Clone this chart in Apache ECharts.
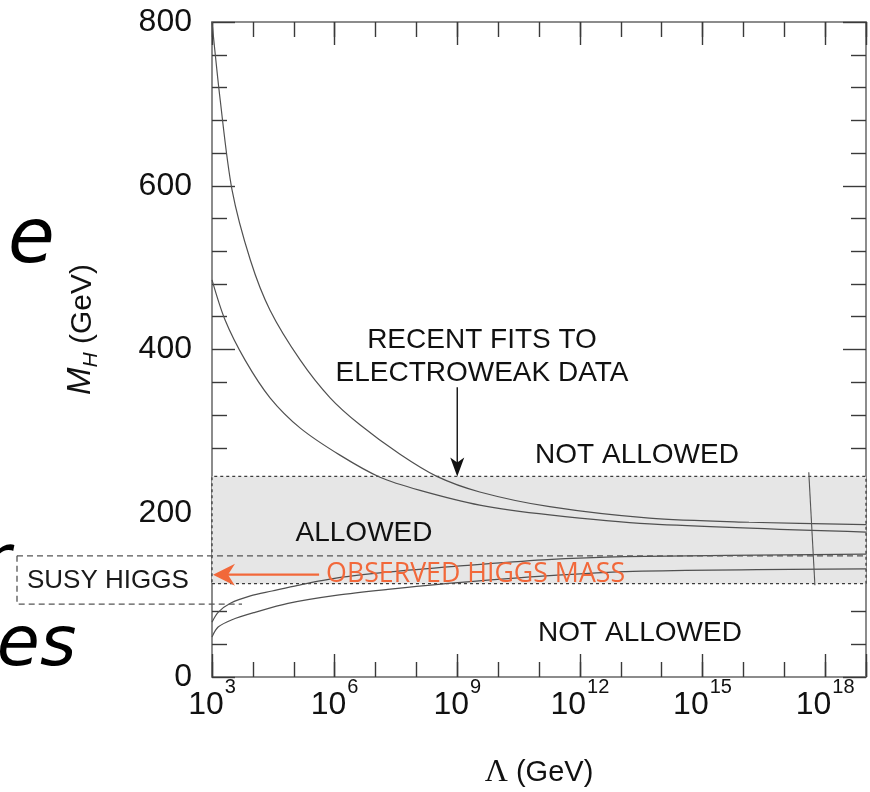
<!DOCTYPE html>
<html>
<head>
<meta charset="utf-8">
<script src="https://cdn.jsdelivr.net/npm/echarts@6/dist/echarts.min.js"></script>
<style>
  html, body { margin: 0; padding: 0; background: #ffffff; }
  #chart { width: 870px; height: 792px; }
</style>
</head>
<body>
<div id="chart"></div>
<script>
// x values are log10(Λ / GeV), y values are M_H in GeV
const xLabelExponents = [3, 6, 9, 12, 15, 18];
const yLabelValues = [0, 200, 400, 600, 800];

// triviality (upper) bounds, two edges
const upperEdgeHigh = [[3, 800], [3.2, 705], [3.49, 595], [3.94, 509], [4.42, 448], [5.16, 387], [5.89, 341], [6.62, 308], [7.6, 272], [8.5, 245], [9.55, 226], [11.26, 208], [13.7, 194], [16.14, 189], [19, 186]];
const upperEdgeLow = [[3, 485], [3.32, 436], [3.81, 387], [4.42, 341], [5.16, 304], [6.13, 271], [7.11, 244], [8.09, 228], [9.55, 210], [11.26, 198], [13.7, 187], [19, 177]];

// vacuum stability (lower) bounds, two edges
const lowerEdgeHigh = [[3, 67], [3.15, 79], [3.45, 90], [3.94, 99], [4.47, 105], [5.1, 112], [6.07, 121], [7.3, 128], [8.94, 135], [11.1, 143], [13.1, 147], [19, 150]];
const lowerEdgeLow = [[3, 49], [3.15, 61], [3.49, 70], [4.05, 79], [4.86, 90], [6.07, 100], [7.3, 107], [8.94, 115], [11, 123], [13.3, 129], [19, 132]];

// Planck-scale cut mark
const cutoffMark = [[17.6, 250], [17.75, 112]];

// shaded "allowed" band and SUSY Higgs window (GeV)
const allowedBand = [114, 245];
const susyWindow = [89, 148];
const observedMass = 125;
const fitsArrowTarget = [9, 245];
const fitsArrowStart = 354;
const observedArrowFrom = 5.62;

const chart = echarts.init(document.getElementById('chart'), null, { renderer: 'canvas' });

const FONT = "'Liberation Sans', Arial, sans-serif";
const axisLineStyle = { color: '#8c8c8c', width: 2 };
const tickStyle = { color: '#3a3a3a', width: 1.4 };

function xAxisPair(position, withLabels) {
  return [
    {
      type: 'value', position: position, min: 3, max: 19, interval: 3,
      axisLine: { show: true, onZero: false, lineStyle: axisLineStyle },
      axisTick: { show: true, inside: true, length: 23, lineStyle: tickStyle },
      splitLine: { show: false },
      axisLabel: withLabels ? {
        show: true, margin: 0,
        formatter: function (v) {
          return xLabelExponents.indexOf(v) >= 0 ? '{b|10}{s|' + v + '}' : '';
        },
        rich: {
          b: { fontFamily: FONT, fontSize: 32, color: '#111', lineHeight: 44, verticalAlign: 'bottom' },
          s: { fontFamily: FONT, fontSize: 20, color: '#111', lineHeight: 11, verticalAlign: 'top', padding: [0, 0, 0, 1] }
        }
      } : { show: false },
      name: withLabels ? '{l|\u039B} (GeV)' : '',
      nameLocation: 'middle', nameGap: 80,
      nameTextStyle: {
        fontFamily: FONT, fontSize: 29, color: '#111',
        rich: { l: { fontFamily: "'Liberation Serif', serif", fontSize: 32, color: '#111' } }
      }
    },
    {
      type: 'value', position: position, min: 3, max: 19, interval: 1,
      axisLine: { show: false, onZero: false },
      axisTick: { show: true, inside: true, length: 15, lineStyle: tickStyle },
      splitLine: { show: false },
      axisLabel: { show: false }
    }
  ];
}

function yAxisOf(position, withLabels) {
  return {
    type: 'value', position: position, min: 0, max: 800, interval: 200,
    axisLine: { show: true, onZero: false, lineStyle: axisLineStyle },
    axisTick: { show: true, inside: true, length: 23, lineStyle: tickStyle },
    minorTick: { show: true, splitNumber: 5, length: 15, lineStyle: tickStyle },
    splitLine: { show: false },
    minorSplitLine: { show: false },
    axisLabel: withLabels ? {
      show: true, margin: 20, fontFamily: FONT, fontSize: 32, color: '#111',
      formatter: function (v) { return yLabelValues.indexOf(v) >= 0 ? String(v) : ''; }
    } : { show: false },
    name: withLabels ? '{m|M}{h|H} (GeV)' : '',
    nameLocation: 'middle', nameGap: 110,
    nameTextStyle: {
      fontFamily: FONT, fontSize: 30, color: '#111',
      padding: [0, 0, 0, 40],
      rich: {
        m: { fontFamily: FONT, fontSize: 33, fontStyle: 'italic', color: '#111', verticalAlign: 'top', lineHeight: 38 },
        h: { fontFamily: FONT, fontSize: 21, fontStyle: 'italic', color: '#111', verticalAlign: 'bottom', lineHeight: 38 }
      }
    }
  };
}

const curveStyle = { color: '#505050', width: 1.2 };
function curve(name, data) {
  return {
    name: name, type: 'line', data: data, smooth: 0.3, showSymbol: false,
    lineStyle: curveStyle, xAxisIndex: 0, yAxisIndex: 0, z: 5, silent: true
  };
}

const option = {
  animation: false,
  backgroundColor: '#ffffff',
  grid: { left: 212, right: 4, top: 22, bottom: 115, containLabel: false, outerBoundsMode: 'none' },
  xAxis: [].concat(xAxisPair('bottom', true), xAxisPair('top', false)),
  yAxis: [yAxisOf('left', true), yAxisOf('right', false)],
  series: [
    {
      name: 'allowed', type: 'line', data: [], xAxisIndex: 0, yAxisIndex: 0, z: 1, silent: true,
      markArea: {
        silent: true,
        itemStyle: { color: '#e6e6e6', borderColor: '#3c3c3c', borderWidth: 1.3, borderType: [3, 3] },
        label: { show: false },
        data: [[{ xAxis: 3, yAxis: allowedBand[0] }, { xAxis: 19, yAxis: allowedBand[1] }]]
      }
    },
    curve('upper-high', upperEdgeHigh),
    curve('upper-low', upperEdgeLow),
    curve('lower-high', lowerEdgeHigh),
    curve('lower-low', lowerEdgeLow),
    {
      name: 'cutoff', type: 'line', data: cutoffMark, showSymbol: false,
      lineStyle: { color: '#555', width: 1.1 }, xAxisIndex: 0, yAxisIndex: 0, z: 5, silent: true
    }
  ]
};
chart.setOption(option);

// annotations placed from data coordinates
function px(x, y) { return chart.convertToPixel({ xAxisIndex: 0, yAxisIndex: 0 }, [x, y]); }

function measure(text, font) {
  const c = document.createElement('canvas').getContext('2d');
  c.font = font;
  return c.measureText(text).width;
}

const pRightBottom = px(19, 0);
const ySusyTop = px(3, susyWindow[1])[1];
const ySusyBottom = px(3, susyWindow[0])[1];
const pObs = px(observedArrowFrom, observedMass);
const pObsTip = px(3, observedMass);
const pFits = px(fitsArrowTarget[0], fitsArrowTarget[1]);
const pFitsStart = px(fitsArrowTarget[0], fitsArrowStart);

const orange = '#f2683a';
const obsText = 'OBSERVED HIGGS MASS';
const obsFont = "28px 'Open Sans', sans-serif";
const obsScale = 299 / measure(obsText, obsFont);

const labelFont = "28px 'Liberation Sans', Arial, sans-serif";
const slideFont = "italic 70px 'DejaVu Sans', sans-serif";

const graphics = [
  // SUSY Higgs window: dashed top edge across the plot and box to the left
  { type: 'line', silent: true, z: 10,
    shape: { x1: 17, y1: ySusyTop, x2: pRightBottom[0], y2: ySusyTop },
    style: { stroke: '#555', lineWidth: 1.3, lineDash: [6, 4] } },
  { type: 'polyline', silent: true, z: 10,
    shape: { points: [[17, ySusyTop], [17, ySusyBottom], [242, ySusyBottom]] },
    style: { stroke: '#555', lineWidth: 1.3, lineDash: [6, 4], fill: null } },
  { type: 'text', silent: true, z: 11, x: 27, y: (ySusyTop + ySusyBottom) / 2 + 1,
    style: { text: 'SUSY HIGGS', font: "26px 'Liberation Sans', Arial, sans-serif", fill: '#1a1a1a', verticalAlign: 'middle', align: 'left' } },

  // observed mass arrow
  { type: 'line', silent: true, z: 12,
    shape: { x1: pObs[0], y1: pObs[1], x2: pObsTip[0] + 14, y2: pObs[1] },
    style: { stroke: orange, lineWidth: 2.2 } },
  { type: 'polygon', silent: true, z: 12,
    shape: { points: [[pObsTip[0] + 1, pObs[1]], [pObsTip[0] + 23, pObs[1] - 11], [pObsTip[0] + 16, pObs[1]], [pObsTip[0] + 23, pObs[1] + 11]] },
    style: { fill: orange } },
  { type: 'text', silent: true, z: 12, x: pObs[0] + 7, y: pObs[1] - 1, scaleX: obsScale,
    style: { text: obsText, font: obsFont, fill: orange, verticalAlign: 'middle', align: 'left' } },

  // electroweak fits arrow
  { type: 'line', silent: true, z: 12,
    shape: { x1: pFits[0], y1: pFitsStart[1], x2: pFits[0], y2: pFits[1] - 12 },
    style: { stroke: '#111', lineWidth: 1.4 } },
  { type: 'polygon', silent: true, z: 12,
    shape: { points: [[pFits[0], pFits[1]], [pFits[0] - 7, pFits[1] - 19], [pFits[0], pFits[1] - 14], [pFits[0] + 7, pFits[1] - 19]] },
    style: { fill: '#111' } },
  { type: 'text', silent: true, z: 12, x: 482, y: 340,
    style: { text: 'RECENT FITS TO', font: labelFont, fill: '#111', align: 'center', verticalAlign: 'middle' } },
  { type: 'text', silent: true, z: 12, x: 482, y: 373,
    style: { text: 'ELECTROWEAK DATA', font: labelFont, fill: '#111', align: 'center', verticalAlign: 'middle' } },

  // region labels
  { type: 'text', silent: true, z: 12, x: 637, y: 455,
    style: { text: 'NOT ALLOWED', font: labelFont, fill: '#111', align: 'center', verticalAlign: 'middle' } },
  { type: 'text', silent: true, z: 12, x: 364, y: 533,
    style: { text: 'ALLOWED', font: labelFont, fill: '#111', align: 'center', verticalAlign: 'middle' } },
  { type: 'text', silent: true, z: 12, x: 640, y: 633,
    style: { text: 'NOT ALLOWED', font: labelFont, fill: '#111', align: 'center', verticalAlign: 'middle' } },

  // slide lettering at the left edge
  { type: 'text', silent: true, z: 12, x: 8, y: 242,
    style: { text: 'e', font: "italic 76px 'DejaVu Sans', sans-serif", fill: '#000', align: 'left', verticalAlign: 'middle' } },
  { type: 'text', silent: true, z: 12, x: -18, y: 565,
    style: { text: 'r', font: slideFont, fill: '#000', align: 'left', verticalAlign: 'middle' } },
  { type: 'text', silent: true, z: 12, x: -46, y: 647,
    style: { text: 'oes', font: slideFont, fill: '#000', align: 'left', verticalAlign: 'middle' } }
];

chart.setOption({ graphic: graphics });
</script>
</body>
</html>
